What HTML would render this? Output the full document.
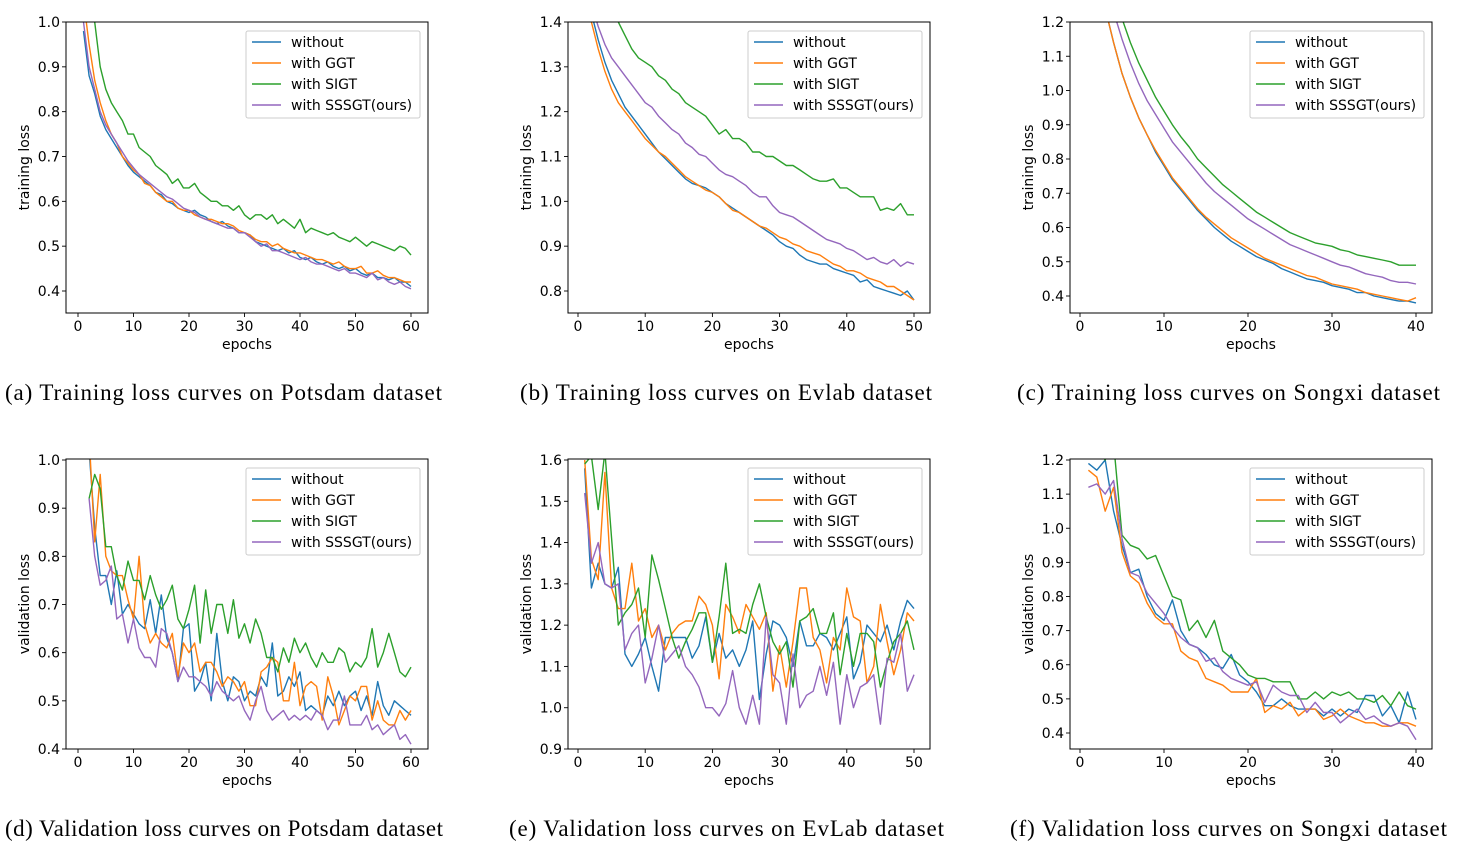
<!DOCTYPE html>
<html><head><meta charset="utf-8"><style>
html,body{margin:0;padding:0;background:#fff;width:1457px;height:848px;overflow:hidden}
svg{display:block}
</style></head><body>
<svg id="fig" width="1457" height="848" xmlns="http://www.w3.org/2000/svg"></svg>
<script>
// ---- data ----
const seriesNames = ["without","with GGT","with SIGT","with SSSGT(ours)"];
const seriesColors = ["#1f77b4","#ff7f0e","#2ca02c","#9467bd"];

const aStart = 1;
const aWithout = [0.98,0.88,0.84,0.79,0.76,0.74,0.72,0.70,0.68,0.665,0.655,0.645,0.635,0.62,0.615,0.60,0.595,0.585,0.58,0.575,0.58,0.57,0.565,0.555,0.55,0.555,0.545,0.54,0.53,0.53,0.525,0.51,0.505,0.50,0.495,0.49,0.495,0.485,0.49,0.475,0.47,0.475,0.465,0.46,0.465,0.455,0.45,0.455,0.445,0.45,0.44,0.435,0.44,0.43,0.43,0.425,0.43,0.42,0.42,0.41];
const aGGT = [1.05,0.95,0.87,0.82,0.78,0.75,0.73,0.70,0.685,0.67,0.66,0.64,0.635,0.62,0.61,0.60,0.60,0.585,0.58,0.58,0.57,0.565,0.56,0.56,0.555,0.55,0.55,0.545,0.535,0.53,0.525,0.515,0.51,0.51,0.50,0.505,0.495,0.49,0.485,0.485,0.48,0.475,0.47,0.47,0.465,0.46,0.465,0.455,0.45,0.45,0.455,0.44,0.44,0.445,0.435,0.43,0.43,0.425,0.42,0.42];
const aSIGT = [1.10,1.05,1.0,0.90,0.85,0.82,0.80,0.78,0.75,0.75,0.72,0.71,0.70,0.68,0.67,0.66,0.64,0.65,0.63,0.63,0.64,0.62,0.61,0.60,0.60,0.59,0.59,0.58,0.59,0.57,0.56,0.57,0.57,0.56,0.57,0.55,0.56,0.55,0.54,0.56,0.53,0.54,0.535,0.53,0.525,0.53,0.52,0.515,0.51,0.52,0.51,0.50,0.51,0.505,0.50,0.495,0.49,0.50,0.495,0.48];
const aSSSGT = [1.0,0.90,0.85,0.80,0.77,0.75,0.73,0.71,0.69,0.675,0.66,0.65,0.64,0.63,0.62,0.61,0.605,0.595,0.585,0.58,0.575,0.565,0.56,0.555,0.55,0.545,0.54,0.54,0.53,0.53,0.52,0.51,0.50,0.505,0.49,0.49,0.485,0.48,0.475,0.47,0.475,0.465,0.46,0.46,0.455,0.45,0.445,0.45,0.44,0.44,0.435,0.43,0.44,0.425,0.43,0.42,0.415,0.42,0.41,0.405];

const bStart = 1;
const bWithout = [1.50,1.42,1.36,1.31,1.27,1.24,1.21,1.19,1.17,1.15,1.13,1.11,1.095,1.08,1.065,1.05,1.04,1.035,1.03,1.02,1.01,0.995,0.985,0.975,0.965,0.955,0.945,0.935,0.925,0.91,0.90,0.895,0.88,0.87,0.865,0.86,0.86,0.85,0.845,0.84,0.835,0.82,0.825,0.81,0.805,0.80,0.795,0.79,0.80,0.78];
const bGGT = [1.48,1.40,1.34,1.29,1.25,1.22,1.20,1.18,1.16,1.14,1.125,1.11,1.10,1.085,1.07,1.055,1.045,1.035,1.025,1.02,1.01,0.995,0.98,0.975,0.965,0.955,0.945,0.94,0.93,0.92,0.915,0.905,0.90,0.89,0.885,0.88,0.87,0.86,0.855,0.845,0.845,0.84,0.83,0.825,0.82,0.81,0.81,0.80,0.79,0.78];
const bSIGT = [1.60,1.55,1.50,1.46,1.42,1.40,1.37,1.34,1.32,1.31,1.30,1.28,1.27,1.25,1.24,1.22,1.21,1.20,1.19,1.17,1.15,1.16,1.14,1.14,1.13,1.11,1.11,1.10,1.10,1.09,1.08,1.08,1.07,1.06,1.05,1.045,1.045,1.05,1.03,1.03,1.02,1.01,1.01,1.01,0.98,0.985,0.98,0.995,0.97,0.97];
const bSSSGT = [1.52,1.44,1.39,1.35,1.32,1.30,1.28,1.26,1.24,1.22,1.21,1.19,1.175,1.16,1.15,1.13,1.12,1.105,1.10,1.085,1.07,1.06,1.055,1.045,1.035,1.02,1.01,1.01,0.99,0.975,0.97,0.965,0.955,0.945,0.935,0.925,0.915,0.91,0.905,0.895,0.89,0.88,0.87,0.875,0.865,0.86,0.87,0.855,0.865,0.86];

const cStart = 1;
const cWithout = [1.50,1.37,1.24,1.14,1.05,0.98,0.92,0.87,0.82,0.78,0.74,0.71,0.68,0.65,0.625,0.60,0.58,0.56,0.545,0.53,0.515,0.505,0.495,0.48,0.47,0.46,0.45,0.445,0.44,0.43,0.425,0.42,0.41,0.41,0.40,0.395,0.39,0.385,0.385,0.38];
const cGGT = [1.50,1.37,1.24,1.14,1.05,0.98,0.92,0.87,0.825,0.785,0.745,0.715,0.685,0.655,0.63,0.61,0.59,0.57,0.555,0.54,0.525,0.51,0.50,0.49,0.48,0.47,0.46,0.455,0.445,0.435,0.43,0.425,0.42,0.41,0.405,0.40,0.395,0.39,0.385,0.395];
const cSIGT = [1.65,1.52,1.38,1.27,1.21,1.14,1.08,1.03,0.98,0.94,0.90,0.865,0.835,0.80,0.775,0.75,0.725,0.705,0.685,0.665,0.645,0.63,0.615,0.60,0.585,0.575,0.565,0.555,0.55,0.545,0.535,0.53,0.52,0.515,0.51,0.505,0.50,0.49,0.49,0.49];
const cSSSGT = [1.58,1.45,1.33,1.23,1.15,1.08,1.02,0.97,0.93,0.89,0.85,0.82,0.79,0.76,0.73,0.705,0.685,0.665,0.645,0.625,0.61,0.595,0.58,0.565,0.55,0.54,0.53,0.52,0.51,0.50,0.49,0.485,0.475,0.465,0.46,0.455,0.445,0.44,0.44,0.435];

const dStart = 2;
const dWithout = [1.02,0.86,0.76,0.76,0.70,0.77,0.68,0.70,0.68,0.66,0.65,0.71,0.64,0.72,0.63,0.60,0.54,0.65,0.66,0.52,0.54,0.58,0.50,0.64,0.54,0.50,0.55,0.54,0.50,0.52,0.51,0.55,0.53,0.62,0.51,0.52,0.55,0.53,0.56,0.48,0.49,0.48,0.47,0.51,0.49,0.52,0.49,0.51,0.52,0.48,0.51,0.47,0.54,0.49,0.47,0.50,0.49,0.48,0.47];
const dGGT = [1.05,0.83,0.97,0.80,0.77,0.76,0.76,0.71,0.67,0.80,0.66,0.62,0.64,0.62,0.61,0.64,0.55,0.62,0.60,0.62,0.56,0.58,0.58,0.56,0.53,0.55,0.54,0.52,0.54,0.49,0.49,0.56,0.57,0.59,0.58,0.50,0.50,0.58,0.49,0.53,0.54,0.53,0.46,0.55,0.51,0.45,0.48,0.51,0.50,0.53,0.53,0.46,0.50,0.46,0.45,0.45,0.48,0.46,0.48];
const dSIGT = [0.92,0.97,0.94,0.82,0.82,0.76,0.73,0.79,0.75,0.75,0.71,0.76,0.72,0.69,0.71,0.74,0.67,0.65,0.69,0.74,0.62,0.73,0.64,0.70,0.70,0.64,0.71,0.63,0.66,0.62,0.67,0.64,0.59,0.59,0.56,0.61,0.58,0.63,0.60,0.62,0.59,0.57,0.60,0.58,0.58,0.61,0.60,0.56,0.58,0.57,0.59,0.65,0.57,0.60,0.64,0.60,0.56,0.55,0.57];
const dSSSGT = [0.92,0.80,0.74,0.75,0.78,0.67,0.68,0.62,0.67,0.61,0.59,0.59,0.57,0.65,0.64,0.60,0.54,0.57,0.55,0.55,0.54,0.53,0.51,0.54,0.52,0.51,0.50,0.51,0.48,0.46,0.50,0.53,0.48,0.46,0.47,0.48,0.46,0.47,0.46,0.47,0.46,0.48,0.47,0.44,0.46,0.46,0.51,0.45,0.45,0.45,0.47,0.44,0.45,0.43,0.44,0.45,0.42,0.43,0.41];

const eStart = 1;
const eWithout = [1.58,1.29,1.35,1.30,1.29,1.34,1.13,1.10,1.13,1.17,1.10,1.04,1.17,1.17,1.17,1.17,1.12,1.15,1.22,1.11,1.18,1.12,1.14,1.10,1.14,1.21,1.02,1.13,1.21,1.20,1.17,1.10,1.21,1.15,1.15,1.18,1.17,1.14,1.18,1.22,1.07,1.11,1.20,1.18,1.16,1.20,1.14,1.21,1.26,1.24];
const eGGT = [1.60,1.36,1.31,1.57,1.29,1.24,1.24,1.35,1.21,1.24,1.17,1.20,1.14,1.18,1.20,1.21,1.21,1.27,1.25,1.20,1.07,1.25,1.22,1.18,1.25,1.22,1.19,1.23,1.04,1.15,1.05,1.16,1.29,1.29,1.17,1.14,1.06,1.17,1.14,1.29,1.22,1.21,1.06,1.10,1.25,1.16,1.08,1.14,1.23,1.21];
const eSIGT = [1.59,1.61,1.48,1.62,1.41,1.20,1.23,1.25,1.29,1.17,1.37,1.31,1.24,1.17,1.12,1.16,1.19,1.23,1.23,1.11,1.22,1.35,1.18,1.19,1.18,1.25,1.30,1.22,1.16,1.13,1.16,1.05,1.21,1.22,1.24,1.18,1.18,1.23,1.08,1.18,1.10,1.18,1.18,1.16,1.05,1.11,1.16,1.18,1.21,1.14];
const eSSSGT = [1.52,1.35,1.40,1.30,1.29,1.30,1.14,1.18,1.20,1.06,1.12,1.20,1.11,1.13,1.15,1.10,1.08,1.05,1.00,1.00,0.98,1.01,1.09,1.00,0.96,1.03,0.96,1.22,1.08,1.06,0.96,1.13,1.00,1.03,1.04,1.10,1.03,1.11,0.96,1.08,1.00,1.05,1.06,1.08,0.96,1.12,1.11,1.18,1.04,1.08];

const fStart = 1;
const fWithout = [1.19,1.17,1.20,1.05,0.95,0.87,0.88,0.80,0.75,0.73,0.79,0.70,0.66,0.65,0.63,0.60,0.59,0.63,0.57,0.55,0.52,0.48,0.48,0.50,0.48,0.47,0.47,0.47,0.45,0.47,0.45,0.47,0.46,0.51,0.51,0.45,0.48,0.43,0.52,0.44];
const fGGT = [1.17,1.15,1.05,1.12,0.93,0.86,0.84,0.78,0.74,0.72,0.72,0.64,0.62,0.61,0.56,0.55,0.54,0.52,0.52,0.52,0.56,0.46,0.48,0.47,0.49,0.45,0.47,0.47,0.44,0.45,0.47,0.45,0.44,0.43,0.43,0.42,0.42,0.43,0.43,0.42];
const fSIGT = [1.25,1.23,1.20,1.25,0.98,0.95,0.94,0.91,0.92,0.86,0.80,0.79,0.70,0.73,0.68,0.73,0.64,0.62,0.60,0.57,0.56,0.56,0.55,0.55,0.55,0.50,0.50,0.52,0.50,0.52,0.51,0.52,0.50,0.50,0.49,0.51,0.48,0.52,0.48,0.47];
const fSSSGT = [1.12,1.13,1.10,1.14,0.97,0.87,0.86,0.81,0.78,0.75,0.71,0.68,0.66,0.65,0.61,0.62,0.58,0.56,0.55,0.54,0.55,0.49,0.54,0.52,0.51,0.51,0.46,0.49,0.46,0.46,0.43,0.45,0.47,0.44,0.45,0.43,0.42,0.43,0.42,0.38];

const xTicksA = [0,10,20,30,40,50,60];
const xTicksB = [0,10,20,30,40,50];
const xTicksC = [0,10,20,30,40];
const yTicksA = ["0.4","0.5","0.6","0.7","0.8","0.9","1.0"];
const yTicksB = ["0.8","0.9","1.0","1.1","1.2","1.3","1.4"];
const yTicksC = ["0.4","0.5","0.6","0.7","0.8","0.9","1.0","1.1","1.2"];
const yTicksD = ["0.4","0.5","0.6","0.7","0.8","0.9","1.0"];
const yTicksE = ["0.9","1.0","1.1","1.2","1.3","1.4","1.5","1.6"];
const yTicksF = ["0.4","0.5","0.6","0.7","0.8","0.9","1.0","1.1","1.2"];

// ---- drawing ----
const NS = "http://www.w3.org/2000/svg";
const fig = document.getElementById("fig");
function el(tag, attrs, parent){
  const e = document.createElementNS(NS, tag);
  for (const k in attrs) e.setAttribute(k, attrs[k]);
  (parent||fig).appendChild(e);
  return e;
}
const FONT = '"DejaVu Sans","Liberation Sans",sans-serif';
const FS = 14;

function panel(id, box, xmap, ymap, xTicks, yTicks, ylabel, series, start, caption, cap){
  const g = el("g", {});
  
  
  const sx = v => xmap[1] + (v - xmap[0]) * (xmap[3] - xmap[1]) / (xmap[2] - xmap[0]);
  const sy = v => ymap[1] + (v - ymap[0]) * (ymap[3] - ymap[1]) / (ymap[2] - ymap[0]);
  const cp = el("clipPath", {id: id + "-clip"}, g);
  el("rect", {x: box[0], y: box[1], width: box[2]-box[0], height: box[3]-box[1]}, cp);
  xTicks.forEach(t => {
    const x = sx(t);
    const tk = el("line", {x1:x, x2:x, y1:box[3], y2:box[3]+4, stroke:"#000", "stroke-width":0.9}, g);
    
    
    const tl = el("text", {x:x, y:box[3]+18, "font-size":FS, "font-family":FONT, "text-anchor":"middle", fill:"#000"}, g);
    
    
    tl.textContent = t;
  });
  yTicks.forEach(t => {
    const y = sy(parseFloat(t));
    const tk = el("line", {x1:box[0]-4, x2:box[0], y1:y, y2:y, stroke:"#000", "stroke-width":0.9}, g);
    
    
    const tl = el("text", {x:box[0]-6, y:y+5, "font-size":FS, "font-family":FONT, "text-anchor":"end", fill:"#000"}, g);
    
    
    tl.textContent = t;
  });
  const lg = el("g", {"clip-path": "url(#" + id + "-clip)"}, g);
  series.forEach((arr, si) => {
    const pts = arr.map((v, i) => sx(start + i).toFixed(1) + "," + sy(v).toFixed(1)).join(" ");
    const pl = el("polyline", {points: pts, fill:"none", stroke: seriesColors[si], "stroke-width":1.4, "stroke-linejoin":"round"}, lg);
    
    
  });
  const fr = el("rect", {x: box[0], y: box[1], width: box[2]-box[0], height: box[3]-box[1], fill:"none", stroke:"#000", "stroke-width":1}, g);
  
  
  const lx = box[2] - 182, ly = box[1] + 9;
  const leg = el("g", {}, g);
  
  
  el("rect", {x: lx, y: ly, width: 174, height: 87, rx: 2, fill:"#fff", "fill-opacity":0.8, stroke:"#ccc", "stroke-width":1}, leg);
  seriesNames.forEach((n, i) => {
    const yy = ly + 11 + i * 21;
    const entry = el("g", {}, leg);
    
    
    el("line", {x1: lx+6, x2: lx+35, y1: yy, y2: yy, stroke: seriesColors[i], "stroke-width":1.6}, entry);
    const t = el("text", {x: lx+45, y: yy+5, "font-size":FS, "font-family":FONT, fill:"#000"}, entry);
    t.textContent = n;
  });
  const cx = (box[0] + box[2]) / 2;
  const xl = el("text", {x: cx, y: box[3]+36, "font-size":FS, "font-family":FONT, "text-anchor":"middle", fill:"#000"}, g);
  
  
  xl.textContent = "epochs";
  const cy = (box[1] + box[3]) / 2;
  const yl = el("text", {x: 0, y: 0, "font-size":FS, "font-family":FONT, "text-anchor":"middle", fill:"#000", transform: "translate(" + (box[0]-37) + "," + cy + ") rotate(-90)"}, g);
  
  
  yl.textContent = ylabel;
  const c = el("text", {x: cap[0], y: cap[2], textLength: cap[1]-cap[0], lengthAdjust: "spacing", "font-size":23, "font-family":'"Liberation Serif",serif', fill:"#000"}, g);
  
  
  c.textContent = caption;
}

panel("panel-a", [66,22,428,313], [0,78,60,411], [1.0,22,0.4,291], xTicksA, yTicksA, "training loss", [aWithout,aGGT,aSIGT,aSSSGT], aStart, "(a) Training loss curves on Potsdam dataset", [5,442,400]);
panel("panel-b", [568,22,930,313], [0,578,50,914], [1.4,22,0.8,291], xTicksB, yTicksB, "training loss", [bWithout,bGGT,bSIGT,bSSSGT], bStart, "(b) Training loss curves on Evlab dataset", [520,932,400]);
panel("panel-c", [1070,22,1432,313], [0,1080,40,1416], [1.2,22,0.4,296], xTicksC, yTicksC, "training loss", [cWithout,cGGT,cSIGT,cSSSGT], cStart, "(c) Training loss curves on Songxi dataset", [1017,1440,400]);
panel("panel-d", [66,459,428,749], [0,78,60,411], [1.0,460,0.4,749], xTicksA, yTicksD, "validation loss", [dWithout,dGGT,dSIGT,dSSSGT], dStart, "(d) Validation loss curves on Potsdam dataset", [5,443,836]);
panel("panel-e", [568,459,930,749], [0,578,50,914], [1.6,460,0.9,749], xTicksB, yTicksE, "validation loss", [eWithout,eGGT,eSIGT,eSSSGT], eStart, "(e) Validation loss curves on EvLab dataset", [509,944,836]);
panel("panel-f", [1070,459,1432,749], [0,1080,40,1416], [1.2,460,0.4,733], xTicksC, yTicksF, "validation loss", [fWithout,fGGT,fSIGT,fSSSGT], fStart, "(f) Validation loss curves on Songxi dataset", [1010,1447,836]);
</script>
</body></html>
